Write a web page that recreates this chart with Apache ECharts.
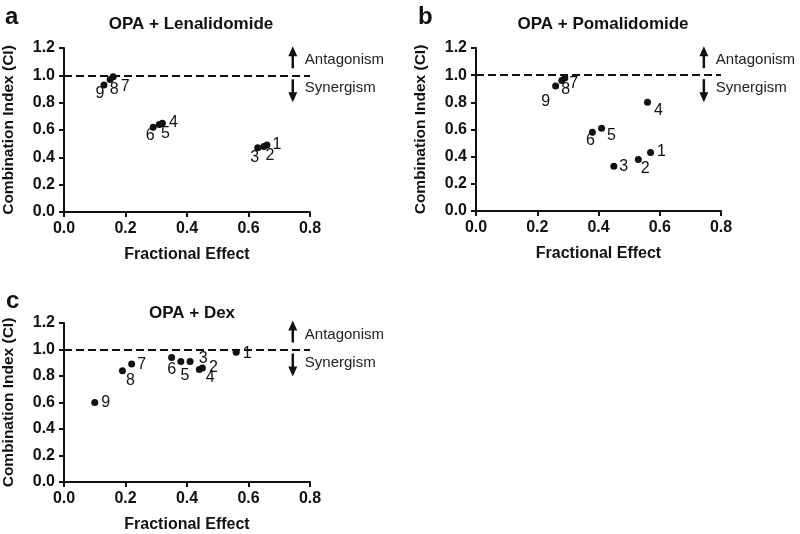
<!DOCTYPE html>
<html>
<head>
<meta charset="utf-8">
<script src="https://cdn.jsdelivr.net/npm/echarts@6/dist/echarts.min.js"></script>
<style>
  html, body { margin: 0; padding: 0; background: #fff; }
  #chart { width: 800px; height: 534px; }
</style>
</head>
<body>
<div id="chart"></div>
<script>
// point names (1..9)
const pointNames = ['1', '2', '3', '4', '5', '6', '7', '8', '9'];

// a: OPA + Lenalidomide
const feA = [0.66, 0.65, 0.63, 0.32, 0.31, 0.29, 0.16, 0.15, 0.13];
const ciA = [0.49, 0.48, 0.47, 0.65, 0.64, 0.62, 0.99, 0.97, 0.93];
// b: OPA + Pomalidomide
const feB = [0.57, 0.53, 0.45, 0.56, 0.41, 0.38, 0.29, 0.28, 0.26];
const ciB = [0.43, 0.38, 0.33, 0.80, 0.61, 0.58, 0.98, 0.96, 0.92];
// c: OPA + Dex
const feC = [0.56, 0.45, 0.41, 0.44, 0.38, 0.35, 0.22, 0.19, 0.10];
const ciC = [0.98, 0.86, 0.91, 0.85, 0.91, 0.94, 0.89, 0.84, 0.60];

const panelTitles = ['OPA + Lenalidomide', 'OPA + Pomalidomide', 'OPA + Dex'];
const panelLetters = ['a', 'b', 'c'];

// label placement (pixel offsets from each dot)
const labOffA = [[10,0],[6,9],[-3,10],[11,-1],[6,9],[-3,8],[12,10],[4,10],[-4,9]];
const labOffB = [[11,-1],[7,9],[10,0],[11,8],[10,7],[-2,8],[9,6],[4,9],[-10,16]];
const labOffC = [[11,1],[11,0],[13,-3],[11,8],[4,14],[0,12],[10,1],[8,10],[11,0]];

const FONT = 'Liberation Sans, Arial, sans-serif';
const INK = '#111';
const grids = [
  { left: 63, right: 490, top: 48, bottom: 322 },
  { left: 476, right: 79, top: 48, bottom: 323 },
  { left: 63, right: 490, top: 323, bottom: 48 }
];

function makeData(fe, ci, offs) {
  return fe.map((x, i) => ({
    name: pointNames[i],
    value: [x, ci[i]],
    label: { offset: offs[i] }
  }));
}

const sets = [[feA, ciA, labOffA], [feB, ciB, labOffB], [feC, ciC, labOffC]];

const chart = echarts.init(document.getElementById('chart'));

const option = {
  animation: false,
  backgroundColor: '#fff',
  textStyle: { fontFamily: FONT },
  title: [
    { text: panelTitles[0], left: 186, top: 11, textAlign: 'center' },
    { text: panelTitles[1], left: 598, top: 11, textAlign: 'center' },
    { text: panelTitles[2], left: 187, top: 300, textAlign: 'center' },
    { text: panelLetters[0], left: 0, top: 0 },
    { text: panelLetters[1], left: 413, top: 0 },
    { text: panelLetters[2], left: 1, top: 284 }
  ].map((t, i) => Object.assign(t, {
    textStyle: i < 3
      ? { fontFamily: FONT, fontSize: 17, fontWeight: 'bold', color: INK }
      : { fontFamily: FONT, fontSize: 24, fontWeight: 'bold', color: INK }
  })),
  grid: grids,
  xAxis: grids.map((g, i) => ({
    gridIndex: i,
    type: 'value',
    min: 0, max: 0.8, interval: 0.2,
    name: 'Fractional Effect',
    nameLocation: 'middle',
    nameGap: 35,
    nameTextStyle: { fontFamily: FONT, fontSize: 16, fontWeight: 'bold', color: INK },
    axisLine: { onZero: false, lineStyle: { color: INK, width: 2 } },
    axisTick: { length: 5, lineStyle: { color: INK, width: 2 } },
    axisLabel: { margin: 9, fontFamily: FONT, fontSize: 16, fontWeight: 'bold', color: INK,
      formatter: v => v.toFixed(1) },
    splitLine: { show: false }
  })),
  yAxis: grids.map((g, i) => ({
    gridIndex: i,
    type: 'value',
    min: 0, max: 1.2, interval: 0.2,
    name: 'Combination Index (CI)',
    nameLocation: 'middle',
    nameGap: 47,
    nameTextStyle: { fontFamily: FONT, fontSize: 15.5, fontWeight: 'bold', color: INK },
    axisLine: { show: true, onZero: false, lineStyle: { color: INK, width: 2 } },
    axisTick: { show: true, length: 5, lineStyle: { color: INK, width: 2 } },
    axisLabel: { margin: 9, fontFamily: FONT, fontSize: 16, fontWeight: 'bold', color: INK,
      formatter: v => v.toFixed(1) },
    splitLine: { show: false }
  })),
  series: sets.map((s, i) => ({
    type: 'scatter',
    xAxisIndex: i,
    yAxisIndex: i,
    symbolSize: 7,
    itemStyle: { color: INK, opacity: 1 },
    label: {
      show: true,
      position: 'inside',
      formatter: '{b}',
      fontFamily: FONT,
      fontSize: 16,
      color: INK
    },
    emphasis: { disabled: true },
    data: makeData(s[0], s[1], s[2]),
    markLine: {
      silent: true,
      symbol: 'none',
      label: { show: false },
      lineStyle: { color: INK, type: [8, 4], width: 2, opacity: 1 },
      data: [{ yAxis: 1.0 }]
    }
  }))
};

chart.setOption(option);

// arrows and Antagonism / Synergism notes, anchored at (0.744, 1.0) in each grid
const notes = [];
for (let i = 0; i < 3; i++) {
  const p = chart.convertToPixel({ gridIndex: i }, [0.744, 1.0]);
  const x = p[0], y = p[1];
  notes.push(
    { type: 'line', shape: { x1: x, y1: y - 7, x2: x, y2: y - 20 }, style: { stroke: INK, lineWidth: 2.5 } },
    { type: 'polygon', shape: { points: [[x - 4.5, y - 19], [x + 4.5, y - 19], [x, y - 29]] }, style: { fill: INK } },
    { type: 'line', shape: { x1: x, y1: y + 4, x2: x, y2: y + 18 }, style: { stroke: INK, lineWidth: 2.5 } },
    { type: 'polygon', shape: { points: [[x - 4.5, y + 17], [x + 4.5, y + 17], [x, y + 27]] }, style: { fill: INK } },
    { type: 'text', x: x + 12, y: y - 15, style: { text: 'Antagonism', font: '15px ' + FONT, fill: '#222', verticalAlign: 'middle' } },
    { type: 'text', x: x + 12, y: y + 13, style: { text: 'Synergism', font: '15px ' + FONT, fill: '#222', verticalAlign: 'middle' } }
  );
}
chart.setOption({ graphic: notes });
</script>
</body>
</html>
